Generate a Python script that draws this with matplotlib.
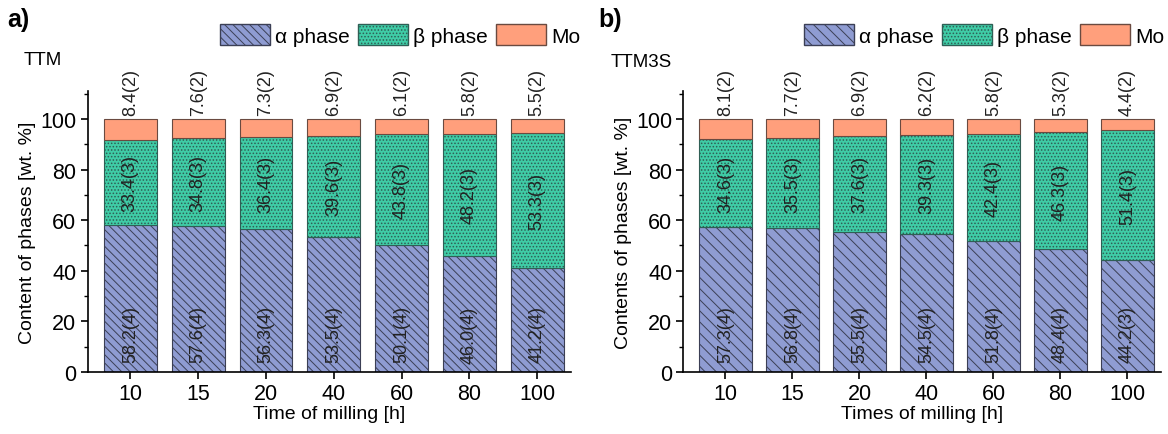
import matplotlib.pyplot as plt
from matplotlib.patches import Patch
from matplotlib.ticker import MultipleLocator

plt.rcParams['font.family'] = ['Liberation Sans', 'DejaVu Sans']
plt.rcParams['hatch.linewidth'] = 0.7

times = ['10', '15', '20', '40', '60', '80', '100']

# panel a) TTM
alpha_a = [58.2, 57.6, 56.3, 53.5, 50.1, 46.0, 41.2]
beta_a = [33.4, 34.8, 36.4, 39.6, 43.8, 48.2, 53.3]
mo_a = [8.4, 7.6, 7.3, 6.9, 6.1, 5.8, 5.5]
alpha_a_lbl = ['58.2(4)', '57.6(4)', '56.3(4)', '53.5(4)', '50.1(4)', '46.0(4)', '41.2(4)']
beta_a_lbl = ['33.4(3)', '34.8(3)', '36.4(3)', '39.6(3)', '43.8(3)', '48.2(3)', '53.3(3)']
mo_a_lbl = ['8.4(2)', '7.6(2)', '7.3(2)', '6.9(2)', '6.1(2)', '5.8(2)', '5.5(2)']

# panel b) TTM3S
alpha_b = [57.3, 56.8, 55.5, 54.5, 51.8, 48.4, 44.2]
beta_b = [34.6, 35.5, 37.6, 39.3, 42.4, 46.3, 51.4]
mo_b = [8.1, 7.7, 6.9, 6.2, 5.8, 5.3, 4.4]
alpha_b_lbl = ['57.3(4)', '56.8(4)', '55.5(4)', '54.5(4)', '51.8(4)', '48.4(4)', '44.2(3)']
beta_b_lbl = ['34.6(3)', '35.5(3)', '37.6(3)', '39.3(3)', '42.4(3)', '46.3(3)', '51.4(3)']
mo_b_lbl = ['8.1(2)', '7.7(2)', '6.9(2)', '6.2(2)', '5.8(2)', '5.3(2)', '4.4(2)']

c_alpha = '#8f9cd2'
c_beta = '#3fcca6'
c_mo = '#ff9f7c'
edge = '#3b3f55'


def draw_panel(ax, alpha, beta, mo, la, lb, lm, alpha_hatch, ylabel, xlabel, leg_x):
    x = range(len(times))
    bottom_mo = [a + b for a, b in zip(alpha, beta)]
    ax.bar(x, alpha, 0.78, color=c_alpha, edgecolor=edge, hatch=alpha_hatch, linewidth=0.8)
    ax.bar(x, beta, 0.78, bottom=alpha, color=c_beta, edgecolor='#2f5f55', hatch='.....', linewidth=0.8)
    ax.bar(x, mo, 0.78, bottom=bottom_mo, color=c_mo, edgecolor='#6a4a40', linewidth=0.8)
    for i in x:
        ax.text(i, 15, la[i], rotation=90, ha='center', va='center', fontsize=13, color='#222222')
        ax.text(i, alpha[i] + beta[i] / 2, lb[i], rotation=90, ha='center', va='center', fontsize=13, color='#222222')
        ax.text(i, 101.5, lm[i], rotation=90, ha='center', va='bottom', fontsize=13, color='#222222')
    ax.set_xlim(-0.63, 6.5)
    ax.set_ylim(0, 111)
    ax.set_xticks(list(x))
    ax.set_xticklabels(times)
    ax.yaxis.set_major_locator(MultipleLocator(20))
    ax.yaxis.set_minor_locator(MultipleLocator(10))
    ax.tick_params(axis='both', labelsize=15.5, width=1.2, length=5, direction='out', pad=3)
    ax.tick_params(axis='y', which='minor', width=1.0, length=3)
    ax.spines['top'].set_visible(False)
    ax.spines['right'].set_visible(False)
    ax.spines['left'].set_linewidth(1.2)
    ax.spines['bottom'].set_linewidth(1.2)
    ax.set_ylabel(ylabel, fontsize=14, labelpad=3)
    ax.set_xlabel(xlabel, fontsize=14, labelpad=1)
    handles = [Patch(facecolor=c_alpha, edgecolor=edge, hatch=alpha_hatch, label='α phase'),
               Patch(facecolor=c_beta, edgecolor='#2f5f55', hatch='.....', label='β phase'),
               Patch(facecolor=c_mo, edgecolor='#6a4a40', label='Mo')]
    fig.legend(handles=handles, ncol=3, loc='center right', bbox_to_anchor=(leg_x, 0.918),
               frameon=False, fontsize=15, handlelength=2.4, handleheight=1.2,
               handletextpad=0.25, columnspacing=0.4, borderaxespad=0, borderpad=0)


fig = plt.figure(figsize=(11.68, 4.35), dpi=100)
ax1 = fig.add_axes([0.075, 0.143, 0.414, 0.645])
ax2 = fig.add_axes([0.585, 0.143, 0.409, 0.645])

draw_panel(ax1, alpha_a, beta_a, mo_a, alpha_a_lbl, beta_a_lbl, mo_a_lbl, '\\\\\\\\',
           'Content of phases [wt. %]', 'Time of milling [h]', 0.497)
draw_panel(ax2, alpha_b, beta_b, mo_b, alpha_b_lbl, beta_b_lbl, mo_b_lbl, '\\\\\\',
           'Contents of phases [wt. %]', 'Times of milling [h]', 0.997)

fig.text(0.006, 0.955, 'a)', fontsize=18, fontweight='bold', va='center')
fig.text(0.512, 0.955, 'b)', fontsize=18, fontweight='bold', va='center')
fig.text(0.02, 0.862, 'TTM', fontsize=13.5, va='center')
fig.text(0.523, 0.857, 'TTM3S', fontsize=13.5, va='center')

fig.savefig('out.png', dpi=100)
